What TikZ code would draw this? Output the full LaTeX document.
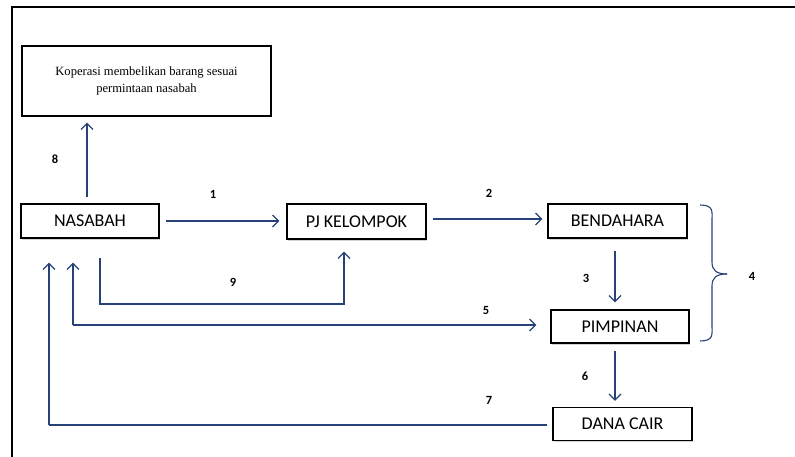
\documentclass[tikz,border=0pt]{standalone}
\usepackage{fontspec}
\setmainfont{Carlito}
\newfontfamily\serifbox{Liberation Serif}
\usetikzlibrary{arrows.meta,shadows,calc}
\definecolor{arrblue}{RGB}{38,66,118}
\tikzset{
  box/.style={draw=black, line width=1.3pt, fill=white, inner sep=0pt,
    font=\fontsize{18}{20}\selectfont,
    drop shadow={shadow xshift=1pt, shadow yshift=-1.5pt, opacity=0.35, fill=gray}},
  arr/.style={draw=arrblue, line width=1.2pt, -{Straight Barb[length=6pt,width=12pt,line width=1.2pt]}},
  plain/.style={draw=arrblue, line width=1.2pt},
  num/.style={font=\bfseries\fontsize{12.5}{14}\selectfont}
}
\begin{document}
\begin{tikzpicture}[x=1pt,y=-1pt]
\useasboundingbox (0,0) rectangle (795,457);
\draw[line width=2.6pt] (12,457) -- (12,7) -- (795,7);

\node[box, minimum width=249pt, minimum height=70pt, align=center,
  font=\serifbox\fontsize{12.6}{17}\selectfont] (kop) at (146.5,81)
  {Koperasi membelikan barang sesuai\\permintaan nasabah};
\node[box, minimum width=138pt, minimum height=34pt] (nas) at (90,221) {NASABAH};
\node[box, minimum width=139pt, minimum height=35pt] (pj) at (356.5,221.5) {PJ KELOMPOK};
\node[box, minimum width=139pt, minimum height=34pt] (ben) at (617.5,221) {BENDAHARA};
\node[box, minimum width=138pt, minimum height=33pt] (pim) at (620,326.5) {PIMPINAN};
\node[box, minimum width=139pt, minimum height=33pt] (dana) at (622.5,424) {DANA CAIR};

% arrow 8
\draw[arr, shorten <=6pt, shorten >=6pt] (nas.north -| 87,0) -- (kop.south -| 87,0);
\node[num] (n8) at (55,159) {8};
% arrow 1
\draw[arr, shorten <=6pt, shorten >=7pt] (nas.east) -- (pj.west |- nas.east);
\node[num] (n1) at (213,194) {1};
% arrow 2
\draw[arr, shorten <=6pt, shorten >=5pt] (pj.east |- 0,219) -- (ben.west |- 0,219);
\node[num] (n2) at (489,193) {2};
% arrow 3
\draw[arr, shorten <=12pt, shorten >=7pt] (ben.south -| 615,0) -- (pim.north -| 615,0);
\node[num] (n3) at (586,278) {3};
% arrow 6
\draw[arr, shorten <=7pt, shorten >=6pt] (pim.south -| 615,0) -- (dana.north -| 615,0);
\node[num] (n6) at (585,376) {6};

% arrow 9
\coordinate (c9) at (344,304);
\draw[arr, shorten <=19pt, shorten >=12pt] (nas.south -| 100,0) |- (c9) -- (pj.south -| c9);
\node[num] (n9) at (233,282) {9};

% arrow 5 (double headed)
\coordinate (c5) at (73,325);
\draw[arr, shorten >=24pt] (c5) -- (nas.south -| c5);
\draw[arr, shorten >=14pt] (c5) -- (pim.west |- c5);
\node[num] (n5) at (486,310) {5};

% arrow 7
\coordinate (c7) at (49,425);
\draw[plain, shorten <=5pt] (dana.west |- c7) -- (c7);
\draw[arr, shorten >=24pt] (c7) -- (nas.south -| c7);
\node[num] (n7) at (489,400) {7};

% brace 4
\coordinate (b1) at (700,205);
\coordinate (b2) at (700,341);
\coordinate (bt) at (727,274);
\draw[plain, line width=1.1pt] (b1) .. controls (714,205) and (712,212) .. (712,220)
  -- (712,262) .. controls (712,270) and (716,274) .. (bt);
\draw[plain, line width=1.1pt] (b2) .. controls (714,341) and (712,334) .. (712,326)
  -- (712,286) .. controls (712,278) and (716,274) .. (bt);
\node[num] (n4) at (752,276) {4};
\end{tikzpicture}
\end{document}
